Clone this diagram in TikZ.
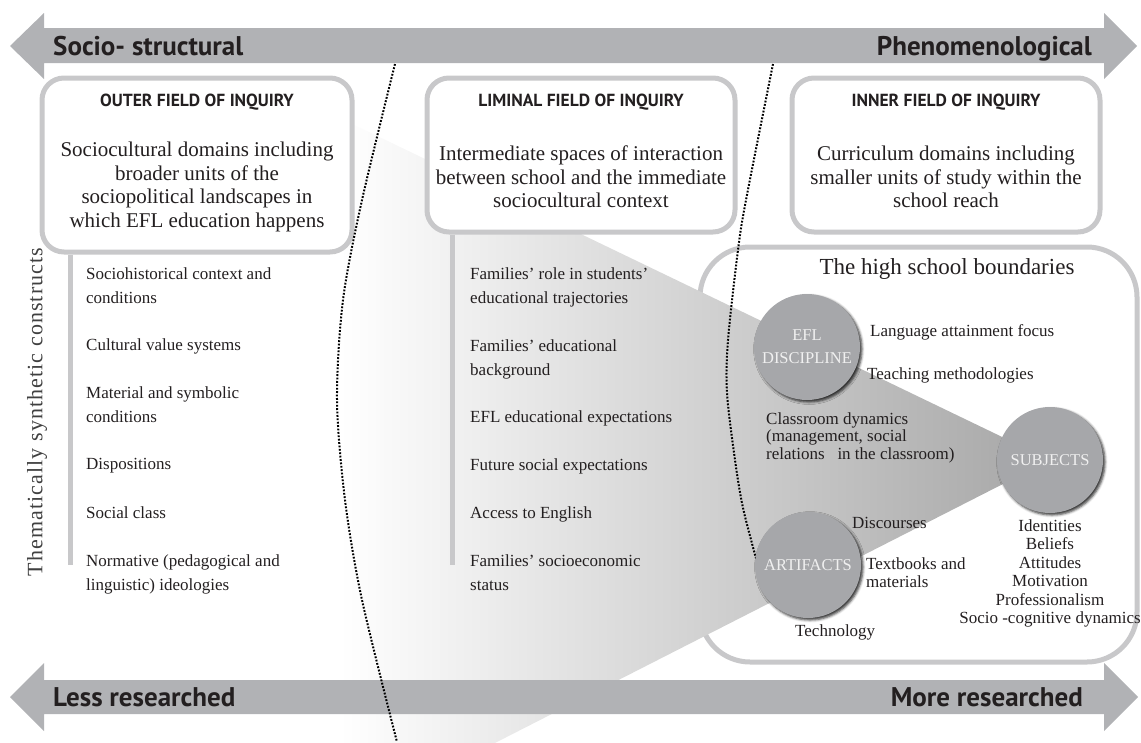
\documentclass[tikz,border=0pt]{standalone}
\usepackage{fontspec}
\setmainfont{Liberation Serif}
\newfontfamily\headfont{PT Sans}
\usetikzlibrary{shadows.blur}
\definecolor{bargray}{RGB}{177,178,181}
\definecolor{linegray}{RGB}{200,200,202}
\definecolor{circgray}{RGB}{166,167,170}
\definecolor{inkgray}{RGB}{35,31,32}

\begin{document}
\begin{tikzpicture}[x=1pt, y=-1pt,
	arrowtext/.style = {font=\headfont\bfseries\fontsize{27}{30}\selectfont, text=inkgray, inner sep=0},
	field/.style = {draw=linegray, line width=5pt, rounded corners=22pt, fill=white, inner sep=0},
	title/.style = {font=\headfont\bfseries\fontsize{17.5}{21}\selectfont, text=inkgray, inner sep=0, anchor=base},
	desc/.style = {font=\fontsize{21}{23.5}\selectfont, align=center, inner sep=0, anchor=north, text=inkgray},
	item/.style = {font=\fontsize{17}{24}\selectfont, align=left, inner sep=0, anchor=north west, text=inkgray},
	note/.style = {font=\fontsize{17}{17.5}\selectfont, align=left, inner sep=0, anchor=north west, text=inkgray},
	disc/.style = {circle, fill=circgray, minimum size=106pt, inner sep=0, align=center,
		font=\fontsize{16.5}{23}\selectfont, text=white!94!black,
		blur shadow={shadow xshift=2pt, shadow yshift=-2pt, shadow blur radius=2.5pt, shadow opacity=80}},
	vbar/.style = {draw=linegray, line width=5pt},
	dots/.style = {draw=black, line width=2pt, dash pattern=on 1.8pt off 1.6pt}]
	\useasboundingbox (0,0) rectangle (1141,742);

	% school boundary and the cone
	\draw[linegray, line width=5pt, rounded corners=50pt] (700,247) rectangle (1137,662);
	\begin{scope}
		\clip (0,0) rectangle (1141,742);
		\shade[left color=white, right color=black!35] (340,118) -- (1050,460) -- (340,822) -- cycle;
	\end{scope}

	% axis arrows
	\fill[bargray] (44,28) -- (1104,28) -- (1104,13) -- (1137,46) -- (1104,79) -- (1104,63)
		-- (44,63) -- (44,79) -- (10,46) -- (44,13) -- cycle;
	\fill[bargray] (44,680) -- (1104,680) -- (1104,663) -- (1138,697) -- (1104,731) -- (1104,714)
		-- (44,714) -- (44,731) -- (10,697) -- (44,663) -- cycle;
	\node[arrowtext, anchor=base west] (socio) at (53,55) {Socio- structural};
	\node[arrowtext, anchor=base east] (pheno) at (1092,55) {Phenomenological};
	\node[arrowtext, anchor=base west] (less) at (53,706) {Less researched};
	\node[arrowtext, anchor=base east] (more) at (1083,706) {More researched};

	% field boxes
	\node[field, minimum width=310pt, minimum height=174pt] (outer) at (197,165) {};
	\node[field, minimum width=308pt, minimum height=154pt] (liminal) at (581,155) {};
	\node[field, minimum width=308pt, minimum height=154pt] (inner) at (946,155) {};
	\node[title] (outert) at (197,106) {OUTER FIELD OF INQUIRY};
	\node[title] (liminalt) at (581,106) {LIMINAL FIELD OF INQUIRY};
	\node[title] (innert) at (946,106) {INNER FIELD OF INQUIRY};
	\node[desc] (outerd) at (197,142) {Sociocultural domains including\\broader units of the\\sociopolitical landscapes in\\which EFL education happens};
	\node[desc] (liminald) at (581,146) {Intermediate spaces of interaction\\between school and the immediate\\sociocultural context};
	\node[desc] (innerd) at (946,146) {Curriculum domains including\\smaller units of study within the\\school reach};

	% dotted borders
	\draw[dots] plot[smooth] coordinates {(395,64) (362,200) (343,300) (337,400) (345,500) (362,600) (397,742)};
	\coordinate (dend) at (757,562);
	\draw[dots] plot[smooth] coordinates {(773,64) (746,200) (738,250) (728,340) (727,393) (735,460) (743,508) (dend)};

	% side bars
	\draw[vbar] (outer.south west -| 70,0) -- (70,565);
	\draw[vbar] (liminal.south west -| 452,0) -- (452,565);
	\node[rotate=90, font=\fontsize{22}{26}\selectfont\addfontfeature{LetterSpace=5}, text=black!75] (theme) at (37,412) {Thematically synthetic constructs};

	% outer items
	\node[item] (o1) at (86,267) {Sociohistorical context and\\conditions};
	\node[item] (o2) at (86,338) {Cultural value systems};
	\node[item] (o3) at (86,386) {Material and symbolic\\conditions};
	\node[item] (o4) at (86,458) {Dispositions};
	\node[item] (o5) at (86,506) {Social class};
	\node[item] (o6) at (86,554) {Normative (pedagogical and\\linguistic) ideologies};

	% liminal items
	\node[item] (l1) at (470,267) {Families’ role in students’\\educational trajectories};
	\node[item] (l2) at (470,339) {Families’ educational\\background};
	\node[item] (l3) at (470,410) {EFL educational expectations};
	\node[item] (l4) at (470,458) {Future social expectations};
	\node[item] (l5) at (470,506) {Access to English};
	\node[item] (l6) at (470,554) {Families’ socioeconomic\\status};

	% the high school
	\node[font=\fontsize{23}{26}\selectfont, text=inkgray, anchor=base] (school) at (947,274) {The high school boundaries};
	\node[disc] (efl) at (807,347) {EFL\\DISCIPLINE};
	\node[disc] (art) at (808,565) {ARTIFACTS};
	\node[disc] (subj) at (1050,460) {SUBJECTS};
	\node[note] (lang) at (870,324) {Language attainment focus};
	\node[note] (teach) at (867,367) {Teaching methodologies};
	\node[note] (room) at (766,412) {Classroom dynamics\\(management, social\\relations \ \ in the classroom)};
	\node[note] (disc) at (852,517) {Discourses};
	\node[note, font=\fontsize{17}{18}\selectfont] (books) at (866,557) {Textbooks and\\materials};
	\node[note] (tech) at (795,624) {Technology};
	\node[note, anchor=north, align=center, font=\fontsize{17}{18.5}\selectfont] (slist) at (1050,519) {Identities\\Beliefs\\Attitudes\\Motivation\\Professionalism\\Socio -cognitive dynamics};
\end{tikzpicture}
\end{document}
